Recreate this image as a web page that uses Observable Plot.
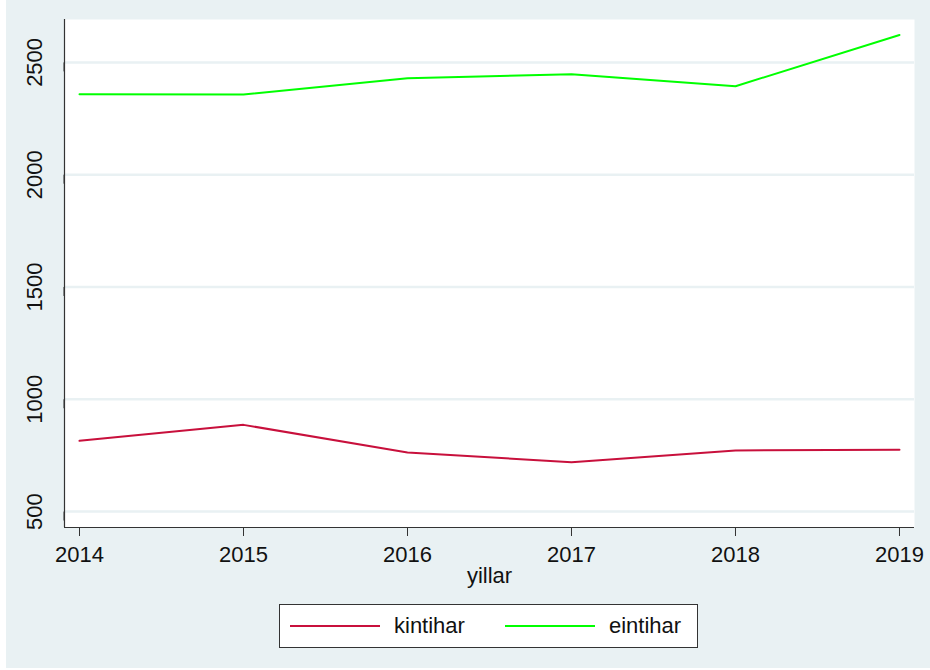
<!DOCTYPE html>
<html>
<head>
<meta charset="utf-8">
<script src="https://cdn.jsdelivr.net/npm/d3@7"></script>
<script src="https://cdn.jsdelivr.net/npm/@observablehq/plot@0.6"></script>
<style>
  html, body { margin: 0; padding: 0; background: #ffffff; }
  body { width: 930px; height: 670px; position: relative; overflow: hidden; font-family: "Liberation Sans", Arial, sans-serif; }
  #bg { position: absolute; left: 6px; top: 0; width: 924px; height: 668px; background: #e9f1f3; }
  #chart { position: absolute; left: 0; top: 0; }
  #legend { position: absolute; left: 279px; top: 604px; width: 417px; height: 42px; border: 1px solid #333; background: #fff; }
  .item { position: absolute; top: 0; height: 42px; display: flex; align-items: center; font-size: 22px; color: #111; }
  .sw { width: 90px; height: 2px; margin-right: 14px; }
</style>
</head>
<body>
<div id="bg"></div>
<div id="chart"></div>
<div id="legend"></div>
<script>
const years = [2014, 2015, 2016, 2017, 2018, 2019];
const kintihar = [815, 886, 763, 720, 772, 775];
const eintihar = [2358, 2357, 2429, 2447, 2394, 2622];
const seriesNames = ["kintihar", "eintihar"];
const seriesColors = ["#c8103c", "#00ff00"];
const yTicks = [500, 1000, 1500, 2000, 2500];
const xLabel = "yillar";

const rows = [];
years.forEach((y, i) => {
  rows.push({year: y, value: kintihar[i], series: "kintihar"});
  rows.push({year: y, value: eintihar[i], series: "eintihar"});
});

const xDomain = [2013.9085, 2019.0915];
const yDomain = [429, 2691];
const bgColor = "#e9f1f3";

const plot = Plot.plot({
  width: 930,
  height: 600,
  marginLeft: 64,
  marginRight: 16,
  marginTop: 19,
  marginBottom: 73,
  style: {background: "transparent", fontFamily: "Liberation Sans, Arial, sans-serif", fontSize: "22px", color: "#111"},
  x: {domain: xDomain},
  y: {domain: yDomain},
  color: {domain: seriesNames, range: seriesColors},
  marks: [
    Plot.frame({fill: "#ffffff", stroke: "none"}),
    Plot.ruleY(yTicks, {stroke: bgColor, strokeWidth: 2.5}),
    Plot.lineY(rows, {x: "year", y: "value", z: "series", stroke: "series", strokeWidth: 2}),
    Plot.ruleX([xDomain[0]], {stroke: "#333", strokeWidth: 1.2}),
    Plot.ruleY([yDomain[0]], {stroke: "#333", strokeWidth: 1.2}),
    Plot.axisX(years, {tickFormat: d => String(d), tickSize: 9, tickPadding: 10, fontSize: 22, stroke: "#333", label: null}),
    Plot.axisY(yTicks, {tickFormat: d => String(d), tickSize: 9, tickPadding: 21, rotate: -90, textAnchor: "middle", fontSize: 22, stroke: "#333", label: null}),
    Plot.text([xLabel], {frameAnchor: "bottom", dy: 55, text: d => d, fontSize: 22, fill: "#111"})
  ]
});
document.getElementById("chart").appendChild(plot);

const legend = document.getElementById("legend");
const positions = [10, 225];
seriesNames.forEach((name, i) => {
  const item = document.createElement("div");
  item.className = "item";
  item.style.left = positions[i] + "px";
  const sw = document.createElement("div");
  sw.className = "sw";
  sw.style.background = seriesColors[i];
  const label = document.createElement("span");
  label.textContent = name;
  item.appendChild(sw);
  item.appendChild(label);
  legend.appendChild(item);
});
</script>
</body>
</html>
